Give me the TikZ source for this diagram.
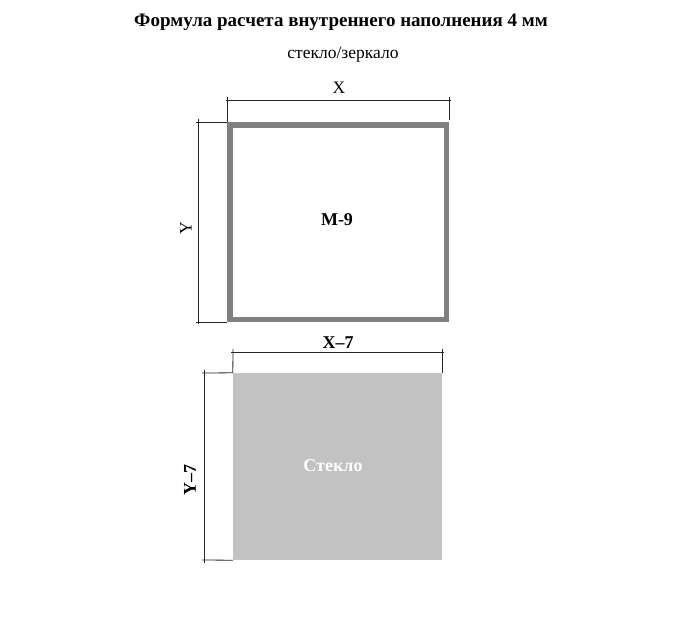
\documentclass[tikz,border=0pt]{standalone}
\usepackage{fontspec}
\setmainfont{Liberation Serif}
\usetikzlibrary{positioning}

\tikzset{
  dimline/.style={line width=0.8pt, black!85},
  frame/.style={draw=black!50, line width=5.5pt, minimum width=216.5pt, minimum height=194.5pt, inner sep=0pt},
  glass/.style={fill=black!24, minimum width=209pt, minimum height=187pt, inner sep=0pt},
  lbl/.style={inner sep=0pt, font=\fontsize{17.5}{20}\selectfont},
  boldlbl/.style={inner sep=0pt, font=\fontsize{18}{20}\selectfont\bfseries}
}

\begin{document}
\begin{tikzpicture}[x=1pt, y=-1pt]
\useasboundingbox (0,0) rectangle (680,630);

% headings
\node[inner sep=0pt, font=\fontsize{19}{22}\selectfont\bfseries] (title) at (341,22) {Формула расчета внутреннего наполнения 4 мм};
\node[lbl] (subtitle) at (343,55) {стекло/зеркало};

% upper panel: frame M-9
\node[frame] (frame) at (338,222) {};
\node[boldlbl] (mlabel) at (337,220) {M-9};

\coordinate (xa) at (226,100);
\coordinate (xb) at (451,100);
\coordinate (xat) at (227,97);
\coordinate (xbt) at (449,97);
\coordinate (xbb) at (449,120);
\draw[dimline] (xa) -- (xb);
\draw[dimline] (xat) -- (frame.north west);
\draw[dimline] (xbt) -- (xbb);
\node[lbl] (xlabel) at (339,88) {X};

\coordinate (ya) at (198,119);
\coordinate (yb) at (198,324);
\coordinate (yat) at (196,122);
\coordinate (ybt) at (196,322);
\draw[dimline] (ya) -- (yb);
\draw[dimline] (yat) -- (frame.north west);
\draw[dimline] (ybt) -- (frame.south west);
\node[lbl, rotate=90] (ylabel) at (186,228) {Y};

% lower panel: glass
\node[glass] (glass) at (337.5,466.5) {};
\node[boldlbl, white] (glabel) at (333,466) {Стекло};

\coordinate (ga) at (231,352);
\coordinate (gb) at (444,352);
\coordinate (gat) at (233,349);
\coordinate (gbt) at (442,349);
\coordinate (gbb) at (442,373);
\draw[dimline] (ga) -- (gb);
\draw[dimline] (gat) -- (glass.north west);
\draw[dimline] (gbt) -- (gbb);
\node[boldlbl] (gxlabel) at (338,343) {X–7};

\coordinate (gya) at (204,370);
\coordinate (gyb) at (204,563);
\coordinate (gyat) at (202,373);
\coordinate (gybt) at (202,560);
\draw[dimline] (gya) -- (gyb);
\draw[dimline] (gyat) -- (glass.north west);
\draw[dimline] (gybt) -- (glass.south west);
\node[boldlbl, rotate=90] (gylabel) at (190,480) {Y–7};
\end{tikzpicture}
\end{document}
